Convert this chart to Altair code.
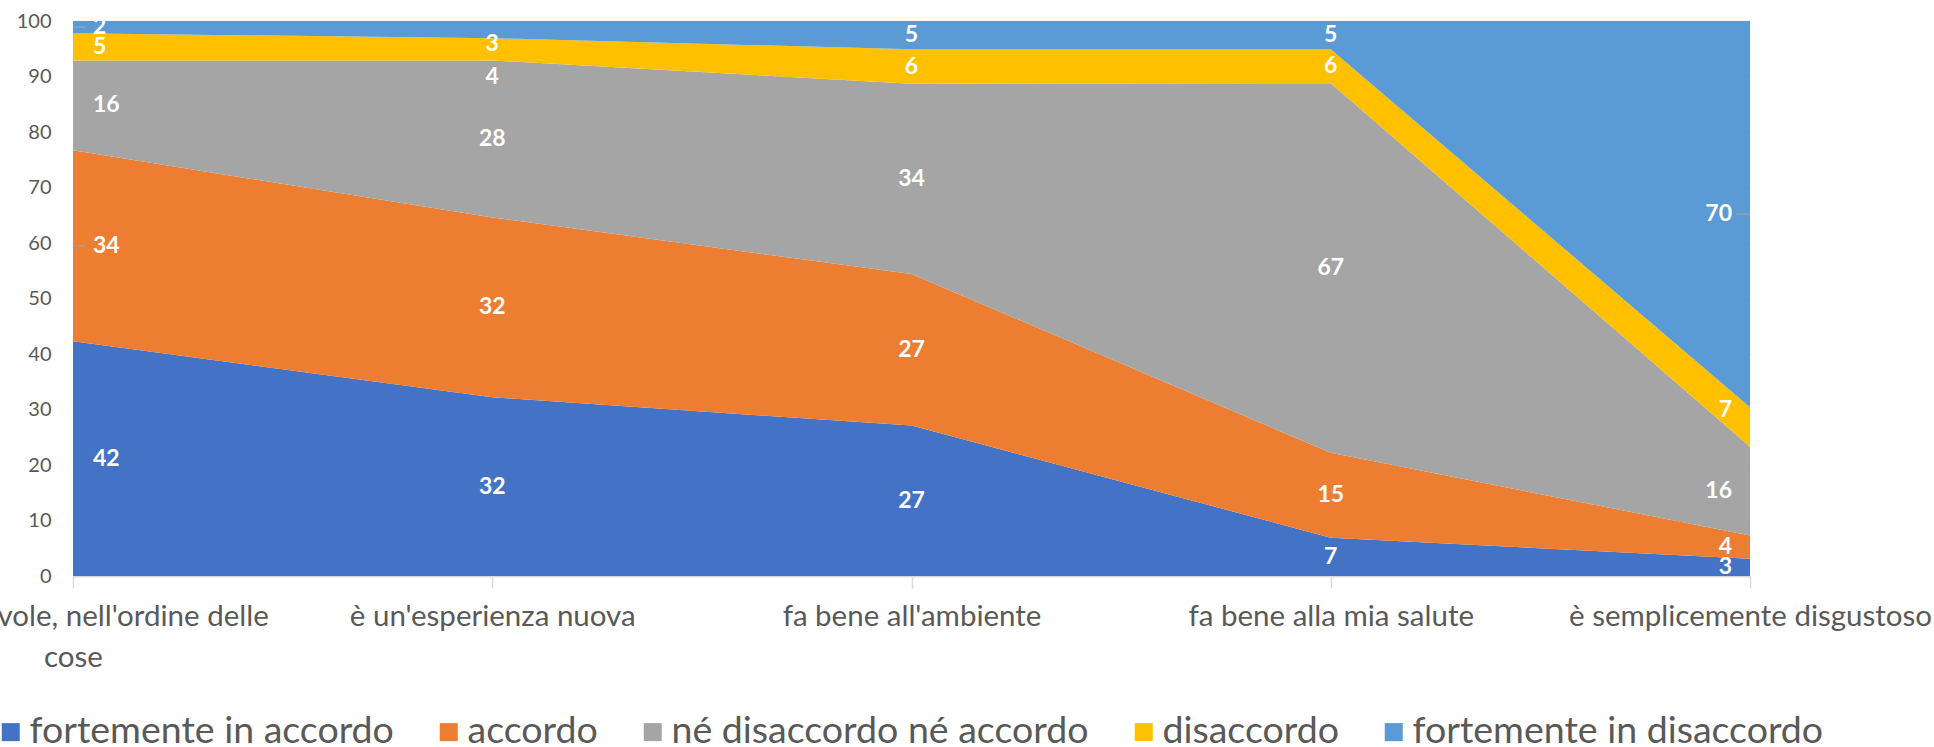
import altair as alt
import pandas as pd

# Survey statements (x axis) and answer scale (stack order, bottom to top)
categories = [
    "è ragionevole, nell'ordine delle cose",
    "è un'esperienza nuova",
    "fa bene all'ambiente",
    "fa bene alla mia salute",
    "è semplicemente disgustoso",
]
responses = [
    "fortemente in accordo",
    "accordo",
    "né disaccordo né accordo",
    "disaccordo",
    "fortemente in disaccordo",
]

# Share of answers (%) for each statement, one list per answer
fortemente_in_accordo = [42.3, 32.2, 27.1, 6.9, 3.1]
accordo = [34.4, 32.4, 27.3, 15.3, 4.2]
ne_disaccordo_ne_accordo = [16.2, 28.3, 34.3, 66.6, 16.0]
disaccordo = [4.9, 4.0, 6.2, 6.1, 7.1]
fortemente_in_disaccordo = [2.2, 3.1, 5.1, 5.1, 69.6]

colors = ["#4472C4", "#ED7D31", "#A5A5A5", "#FFC000", "#5B9BD5"]

series = [
    fortemente_in_accordo,
    accordo,
    ne_disaccordo_ne_accordo,
    disaccordo,
    fortemente_in_disaccordo,
]
rows = []
for i, (resp, vals) in enumerate(zip(responses, series)):
    for cat, v in zip(categories, vals):
        rows.append({"categoria": cat, "risposta": resp, "valore": v, "ordine": i})
df = pd.DataFrame(rows)

FONT = "Lato"
TEXT_GREY = "#595959"
LINE_GREY = "#D9D9D9"

first_label = categories[0]
label_expr = (
    'datum.value == "' + first_label + '" ? '
    '["è ragionevole, nell\'ordine delle", "cose"] : datum.label'
)

x_scale = alt.Scale(type="point", padding=0)
x_axis = alt.Axis(
    title=None,
    labelAngle=0,
    labelFont=FONT,
    labelFontSize=29.5,
    labelColor=TEXT_GREY,
    labelPadding=14,
    labelLineHeight=41,
    labelOverlap=False,
    labelFlush=False,
    labelBound=False,
    labelLimit=0,
    labelExpr=label_expr,
    domainColor=LINE_GREY,
    domainWidth=1.5,
    tickColor=LINE_GREY,
    tickWidth=1.5,
    tickSize=12,
    grid=False,
)
y_axis = alt.Axis(
    title=None,
    values=list(range(0, 101, 10)),
    ticks=False,
    domain=False,
    labelFont=FONT,
    labelFontSize=20,
    labelColor=TEXT_GREY,
    labelPadding=22,
    gridColor=LINE_GREY,
    gridWidth=1.5,
)

base = alt.Chart(df)

areas = base.mark_area(opacity=1).encode(
    x=alt.X("categoria:N", sort=categories, scale=x_scale, axis=x_axis),
    y=alt.Y(
        "valore:Q",
        stack="zero",
        scale=alt.Scale(domain=[0, 100], nice=False),
        axis=y_axis,
    ),
    color=alt.Color(
        "risposta:N",
        sort=responses,
        scale=alt.Scale(domain=responses, range=colors),
        legend=alt.Legend(
            title=None,
            orient="none",
            direction="horizontal",
            legendX=-81,
            legendY=692,
            padding=0,
            labelFont=FONT,
            labelFontSize=37.5,
            labelColor=TEXT_GREY,
            labelLimit=0,
            labelOffset=0,
            columnPadding=36,
            symbolType="square",
            symbolSize=324,
            symbolStrokeWidth=0,
            symbolOpacity=1,
        ),
    ),
    order=alt.Order("ordine:Q", sort="ascending"),
)

# Labels of crowded thin bands are nudged (in % units), as they are drawn
nudges = {
    (categories[1], "disaccordo"): -4.9,
    (categories[1], "fortemente in disaccordo"): -2.6,
    (categories[4], "disaccordo"): 3.0,
}
nudge_expr = " : ".join(
    '(datum.categoria == "' + c + '" && datum.risposta == "' + r + '") ? ' + str(d)
    for (c, r), d in nudges.items()
) + " : 0"

# Midpoint of every band, for the value labels
stacked = base.transform_stack(
    stack="valore",
    groupby=["categoria"],
    sort=[alt.SortField("ordine", order="ascending")],
    as_=["v0", "v1"],
).transform_calculate(
    mezzo="(datum.v0 + datum.v1) / 2 + (" + nudge_expr + ")"
)

is_first = 'datum.categoria == "' + categories[0] + '"'
is_last = 'datum.categoria == "' + categories[-1] + '"'

x_enc = alt.X("categoria:N", sort=categories, scale=x_scale)
text_enc = dict(
    x=x_enc,
    y=alt.Y("mezzo:Q"),
    text=alt.Text("valore:Q", format=".0f"),
)
text_style = dict(font=FONT, fontSize=23, fontWeight="bold", color="white", baseline="middle")

labels_first = stacked.transform_filter(is_first).mark_text(
    align="left", dx=20, **text_style
).encode(**text_enc)

labels_mid = stacked.transform_filter(
    "!(" + is_first + ") && !(" + is_last + ")"
).mark_text(align="center", **text_style).encode(**text_enc)

labels_last = stacked.transform_filter(is_last).mark_text(
    align="right", dx=-18, **text_style
).encode(**text_enc)

# Short leader lines for the labels that sit off their default spot
leader_first = stacked.transform_filter(
    is_first + ' && (datum.risposta == "accordo" || datum.risposta == "fortemente in disaccordo")'
).mark_tick(orient="horizontal", size=12, thickness=1.5, color="#A6A6A6", xOffset=6).encode(
    x=x_enc, y=alt.Y("mezzo:Q")
)
leader_last = stacked.transform_filter(
    is_last + ' && datum.risposta == "fortemente in disaccordo"'
).mark_tick(orient="horizontal", size=14, thickness=1.5, color="#A6A6A6", xOffset=-7).encode(
    x=x_enc, y=alt.Y("mezzo:Q")
)

chart = (
    alt.layer(areas, leader_first, leader_last, labels_first, labels_mid, labels_last)
    .properties(
        width=1677,
        height=555,
        autosize=alt.AutoSizeParams(type="none"),
        padding={"left": 73, "top": 21, "right": 184, "bottom": 171},
        background="white",
    )
    .configure_view(stroke=None)
    .configure_scale(pointPadding=0)
)

chart.save("out.html", embed_options={"renderer": "svg", "actions": False})
